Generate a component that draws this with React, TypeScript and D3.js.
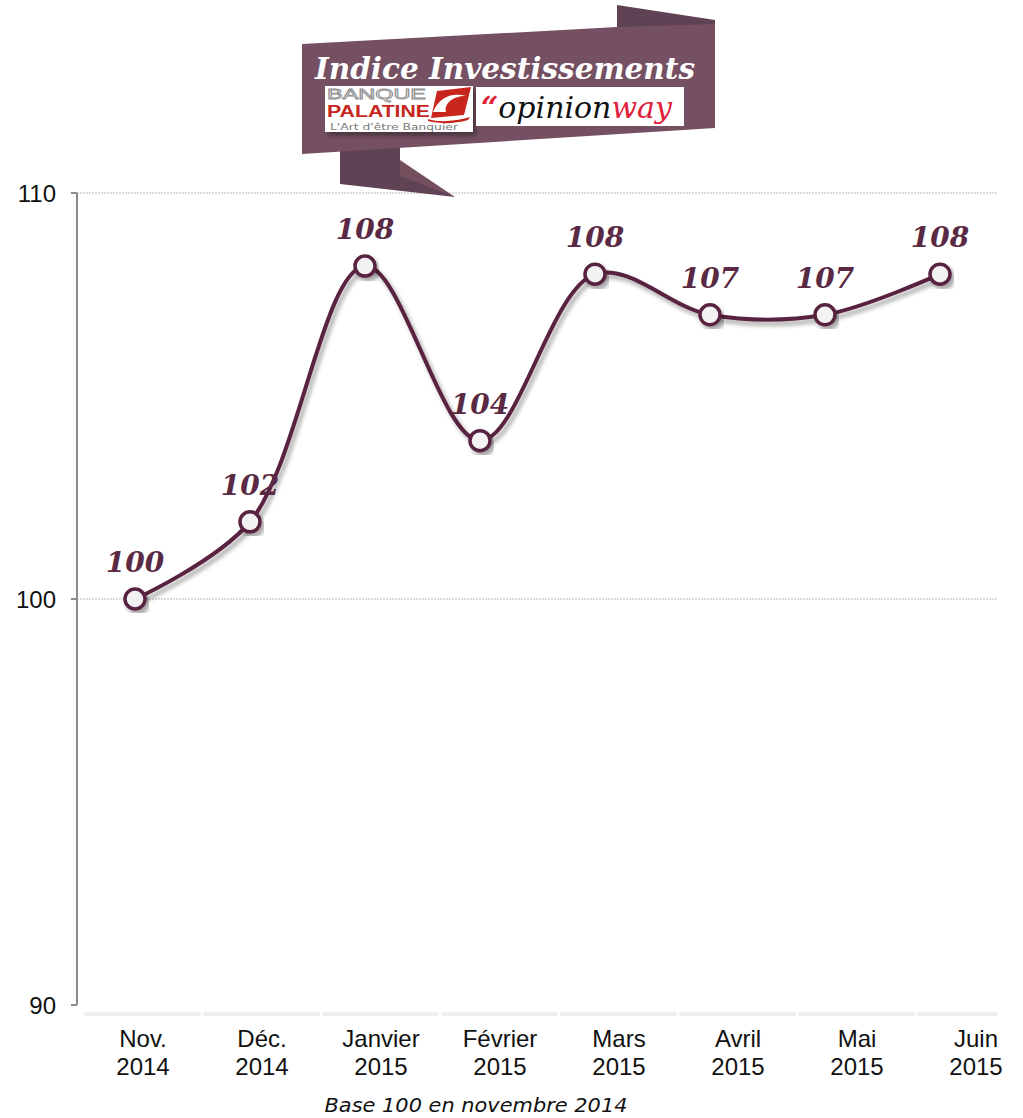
import React, { useEffect, useRef } from "react";
import * as d3 from "d3";

const categories = ["Nov. 2014", "Déc. 2014", "Janvier 2015", "Février 2015", "Mars 2015", "Avril 2015", "Mai 2015", "Juin 2015"];
const indexValues = [100, 101.9, 108.2, 103.9, 108.0, 107.0, 107.0, 108.0];
const yTicks = [90, 100, 110];
const gridValues = [100, 110];

const W = 1023;
const H = 1118;
const LINE = "#58243f";

const App: React.FC = () => {
  const ref = useRef<SVGSVGElement | null>(null);

  useEffect(() => {
    if (!ref.current) return;
    const svg = d3.select(ref.current);
    svg.selectAll("*").remove();

    const y = d3.scaleLinear().domain([90, 110]).range([1005, 193]);
    // markers and category labels are not on the same grid in the original
    const xPts = d3.scalePoint<string>().domain(categories).range([135, 940]);
    const xBand = d3.scaleBand<string>().domain(categories).range([83.5, 1035.5]);
    const axisLeft = 77;
    const axisRight = 997;

    const defs = svg.append("defs");
    const f = defs.append("filter").attr("id", "shadow").attr("x", "-20%").attr("y", "-20%").attr("width", "140%").attr("height", "140%");
    f.append("feDropShadow").attr("dx", 3).attr("dy", 4).attr("stdDeviation", 2)
      .attr("flood-color", "#000").attr("flood-opacity", 0.35);
    const fa = defs.append("filter").attr("id", "axshadow").attr("x", "-5%").attr("y", "-200%").attr("width", "110%").attr("height", "500%");
    fa.append("feDropShadow").attr("dx", 0).attr("dy", 3).attr("stdDeviation", 2)
      .attr("flood-color", "#000").attr("flood-opacity", 0.3);

    // gridlines
    gridValues.forEach(v => {
      svg.append("line")
        .attr("x1", axisLeft).attr("x2", axisRight + 1)
        .attr("y1", y(v)).attr("y2", y(v))
        .attr("stroke", "#b5b5b5").attr("stroke-width", 1)
        .attr("stroke-dasharray", "2,1");
    });

    // banner ribbon
    const banner = svg.append("g");
    banner.append("polygon")
      .attr("points", "617,5 715,20 715,60 617,40")
      .attr("fill", "#5f4254");
    banner.append("polygon")
      .attr("points", "340,148 400,146 400,168 455,197 340,184")
      .attr("fill", "#5f4254");
    banner.append("polygon")
      .attr("points", "400,160 455,197 400,176")
      .attr("fill", "#74505f");
    banner.append("polygon")
      .attr("points", "302,44 617,27 715,24 715,128 302,154")
      .attr("fill", "#745062");
    banner.append("text")
      .attr("x", 505).attr("y", 79)
      .attr("text-anchor", "middle")
      .attr("font-family", "DejaVu Serif").attr("font-style", "italic").attr("font-weight", "bold")
      .attr("font-size", "29px").attr("fill", "#ffffff")
      .attr("textLength", 380).attr("lengthAdjust", "spacingAndGlyphs")
      .text("Indice Investissements");

    // Banque Palatine logo
    banner.append("rect").attr("x", 325).attr("y", 86).attr("width", 148).attr("height", 46)
      .attr("fill", "#fff").attr("filter", "url(#shadow)");
    banner.append("text").attr("x", 327).attr("y", 99)
      .attr("font-family", "Liberation Sans").attr("font-size", "15px")
      .attr("fill", "none").attr("stroke", "#8a8a8a").attr("stroke-width", 0.8)
      .attr("textLength", 99).attr("lengthAdjust", "spacingAndGlyphs")
      .text("BANQUE");
    banner.append("text").attr("x", 327).attr("y", 117)
      .attr("font-family", "Liberation Sans").attr("font-weight", "bold").attr("font-size", "16px")
      .attr("fill", "#c8261c")
      .attr("textLength", 103).attr("lengthAdjust", "spacingAndGlyphs")
      .text("PALATINE");
    banner.append("text").attr("x", 330).attr("y", 130)
      .attr("font-family", "DejaVu Sans").attr("font-size", "9px")
      .attr("fill", "#7a7a7a")
      .attr("textLength", 128).attr("lengthAdjust", "spacingAndGlyphs")
      .text("L'Art d'être Banquier");
    banner.append("path")
      .attr("d", "M437,91 L471,87 L464,115 L431,118 Z")
      .attr("fill", "#c8261c");
    banner.append("path")
      .attr("d", "M433,112 C439,97 452,92 466,96 C452,96 444,104 446,112 Z")
      .attr("fill", "#fff");
    banner.append("path")
      .attr("d", "M428,119 C440,123 456,121 470,117 L468,120 C454,124 440,124 428,121 Z")
      .attr("fill", "#c8261c");

    // OpinionWay logo
    banner.append("rect").attr("x", 476).attr("y", 87).attr("width", 208).attr("height", 39)
      .attr("fill", "#fff");
    const ow = banner.append("text").attr("x", 481).attr("y", 118)
      .attr("font-family", "DejaVu Serif").attr("font-style", "italic").attr("font-size", "30px");
    ow.append("tspan").attr("fill", "#e0203a").attr("font-weight", "bold").text("“");
    ow.append("tspan").attr("fill", "#111").text("opinion");
    ow.append("tspan").attr("fill", "#e0203a").text("way");

    // y axis
    svg.append("line")
      .attr("x1", axisLeft).attr("x2", axisLeft)
      .attr("y1", y(110)).attr("y2", y(90))
      .attr("stroke", "#8c8c8c").attr("stroke-width", 2);
    yTicks.forEach(t => {
      svg.append("line")
        .attr("x1", axisLeft - 6).attr("x2", axisLeft)
        .attr("y1", y(t)).attr("y2", y(t))
        .attr("stroke", "#8c8c8c").attr("stroke-width", 2);
      svg.append("text")
        .attr("x", 56).attr("y", y(t) + 8.5)
        .attr("text-anchor", "end")
        .attr("font-family", "Liberation Sans").attr("font-size", "24px")
        .attr("fill", "#111")
        .text(String(t));
    });

    // x axis
    svg.append("line")
      .attr("x1", axisLeft).attr("x2", axisRight)
      .attr("y1", y(90)).attr("y2", y(90))
      .attr("stroke", "#a0a0a0").attr("stroke-width", 2)
      .attr("filter", "url(#axshadow)");

    // faint category strips under the axis
    categories.forEach(c => {
      const x0 = xBand(c)!;
      const x1 = Math.min(x0 + xBand.bandwidth() - 2, axisRight);
      svg.append("rect")
        .attr("x", x0 + 1).attr("y", 1012)
        .attr("width", Math.max(0, x1 - x0 - 1)).attr("height", 4)
        .attr("fill", "#efefef");
    });

    categories.forEach(c => {
      const [m, yr] = c.split(" ");
      const cx = xBand(c)! + xBand.bandwidth() / 2;
      const t = svg.append("text")
        .attr("text-anchor", "middle")
        .attr("font-family", "Liberation Sans").attr("font-size", "24px")
        .attr("fill", "#111");
      t.append("tspan").attr("x", cx).attr("y", 1047).text(m);
      t.append("tspan").attr("x", cx).attr("y", 1075).text(yr);
    });

    // line
    const line = d3.line<number>()
      .x((_, i) => xPts(categories[i])!)
      .y(d => y(d))
      .curve(d3.curveCatmullRom.alpha(0.5));

    svg.append("path")
      .datum(indexValues)
      .attr("d", line)
      .attr("fill", "none")
      .attr("stroke", LINE)
      .attr("stroke-width", 4)
      .attr("filter", "url(#shadow)");

    svg.append("g").selectAll("circle")
      .data(indexValues)
      .join("circle")
      .attr("cx", (_, i) => xPts(categories[i])!)
      .attr("cy", d => y(d))
      .attr("r", 10)
      .attr("fill", "#f2f2f2")
      .attr("stroke", LINE)
      .attr("stroke-width", 3.5)
      .attr("filter", "url(#shadow)");

    svg.append("g").selectAll("text")
      .data(indexValues)
      .join("text")
      .attr("x", (_, i) => xPts(categories[i])!)
      .attr("y", d => y(d) - 27)
      .attr("text-anchor", "middle")
      .attr("font-family", "DejaVu Serif").attr("font-style", "italic").attr("font-weight", "bold")
      .attr("font-size", "28px")
      .attr("fill", "#5a2a44")
      .text(d => String(Math.round(d)));

    // footnote
    svg.append("text")
      .attr("x", 476).attr("y", 1112)
      .attr("text-anchor", "middle")
      .attr("font-family", "DejaVu Sans").attr("font-style", "italic")
      .attr("font-size", "20px").attr("fill", "#111")
      .attr("textLength", 303).attr("lengthAdjust", "spacingAndGlyphs")
      .text("Base 100 en novembre 2014");
  }, []);

  return (
    <div style={{ position: "absolute", left: 0, top: 0 }}>
      <svg ref={ref} width={W} height={H} style={{ display: "block", background: "#fff" }} />
    </div>
  );
};

export default App;
